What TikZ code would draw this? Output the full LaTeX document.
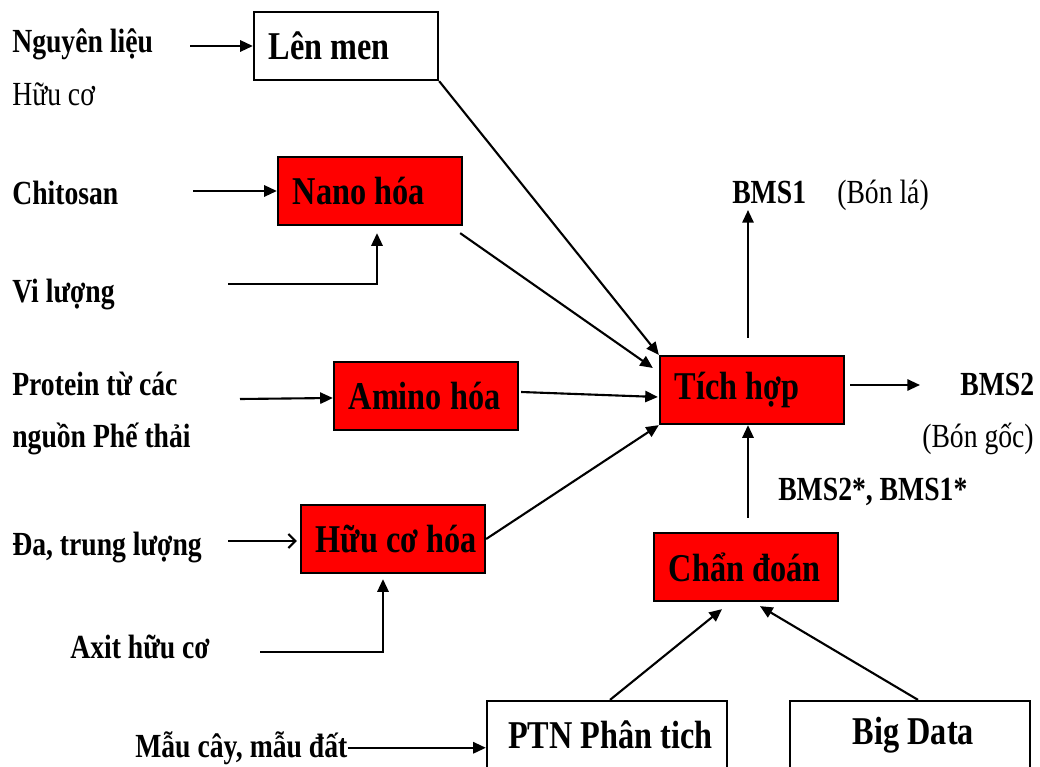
\documentclass[tikz,border=0pt]{standalone}
\usepackage{fontspec}
\setmainfont{Liberation Serif}[FakeStretch=0.82]
\usetikzlibrary{arrows.meta}

\tikzset{
  box/.style={draw, line width=1.6pt, minimum height=1.7cm, text width=4.2cm, inner xsep=0.2cm, align=flush left, execute at begin node={\hskip0.17cm}, font=\bfseries\fontsize{28}{32}\selectfont},
  redbox/.style={box, fill=red},
  widebox/.style={box, text width=5.6cm, align=flush center, execute at begin node={}},
  lbl/.style={anchor=base west, inner sep=0pt, font=\bfseries\fontsize{24}{28}\selectfont},
  plain/.style={lbl, font=\fontsize{24}{28}\selectfont},
  arr/.style={line width=1.5pt, -{Triangle[length=9pt,width=8pt]}},
  openarr/.style={line width=1.5pt, -{Straight Barb[length=5pt,width=10pt]}}
}

\begin{document}
\begin{tikzpicture}[x=0.025cm, y=-0.025cm]
		\useasboundingbox (0,0) rectangle (1040,767);

		\node[box] (len) at (346,46) {Lên men};
		\node[redbox] (nano) at (370,191) {Nano hóa};
		\node[redbox] (amino) at (426,396) {Amino hóa};
		\node[redbox] (huu) at (393,539) {Hữu cơ hóa};
		\node[redbox] (tich) at (752,390) {Tích hợp};
		\node[redbox] (chan) at (746,567) {Chẩn đoán};
		\node[widebox] (ptn) at (607,735) {PTN Phân tich};
		\node[widebox] (big) at (910,735) {Big Data};

		\node[lbl] (nguyen) at (12,53) {Nguyên liệu};
		\node[plain] (huuco) at (12,106) {Hữu cơ};
		\node[lbl] (chito) at (12,205) {Chitosan};
		\node[lbl] (vi) at (12,303) {Vi lượng};
		\node[lbl] (pro) at (12,395) {Protein từ các};
		\node[lbl] (nguon) at (12,447) {nguồn Phế thải};
		\node[lbl] (da) at (12,555) {Đa, trung lượng};
		\node[lbl] (axit) at (70,658) {Axit hữu cơ};
		\node[lbl] (mau) at (135,757) {Mẫu cây, mẫu đất};
		\node[lbl] (bms1) at (732,204) {BMS1};
		\node[plain] (bonla) at (837,204) {(Bón lá)};
		\node[lbl] (bms2) at (960,395) {BMS2};
		\node[plain] (bongoc) at (922,447) {(Bón gốc)};
		\node[lbl] (bmsx) at (778,500) {BMS2*, BMS1*};

		\coordinate (nguyen-out) at (190,46);
		\coordinate (chito-out) at (193,191);
		\coordinate (vi-out) at (228,284);
		\coordinate (pro-out) at (240,399);
		\coordinate (da-out) at (228,541);
		\coordinate (axit-out) at (260,652);
		\coordinate (bms1-in) at (748,210);
		\coordinate (bms2-in) at (920,385);

		\draw[arr] (nguyen-out) -- (len.west);
		\draw[arr] (chito-out) -- (nano.west);
		\draw[arr] (vi-out) -| ([shift={(7,7)}]nano.south);
		\draw[arr] (pro-out) -- ([shift={(0,2)}]amino.west);
		\draw[openarr] (da-out) -- ([shift={(-3,2)}]huu.west);
		\draw[arr] (axit-out) -| ([shift={(-10,5)}]huu.south);
		\draw[arr] (mau.east) -- (mau.east -| ptn.west);

		\draw[arr] (len.south east) -- (tich.north west);
		\draw[arr] ([shift={(-3,7)}]nano.south east) -- ([shift={(-6,-22)}]tich.west);
		\draw[arr] ([shift={(2,-4)}]amino.east) -- ([shift={(-1,7)}]tich.west);
		\draw[arr] (huu.east) -- (tich.south west);

		\draw[arr] ([shift={(-4,-17)}]tich.north) -- (bms1-in);
		\draw[arr] ([shift={(5,-5)}]tich.east) -- (bms2-in);
		\draw[arr] ([shift={(2,-14)}]chan.north) -- ([shift={(-4,0)}]tich.south);
		\draw[arr] ([shift={(3,0)}]ptn.north) -- ([shift={(-24,7)}]chan.south);
		\draw[arr] ([shift={(8,0)}]big.north) -- ([shift={(14,4)}]chan.south);
	\end{tikzpicture}
\end{document}
